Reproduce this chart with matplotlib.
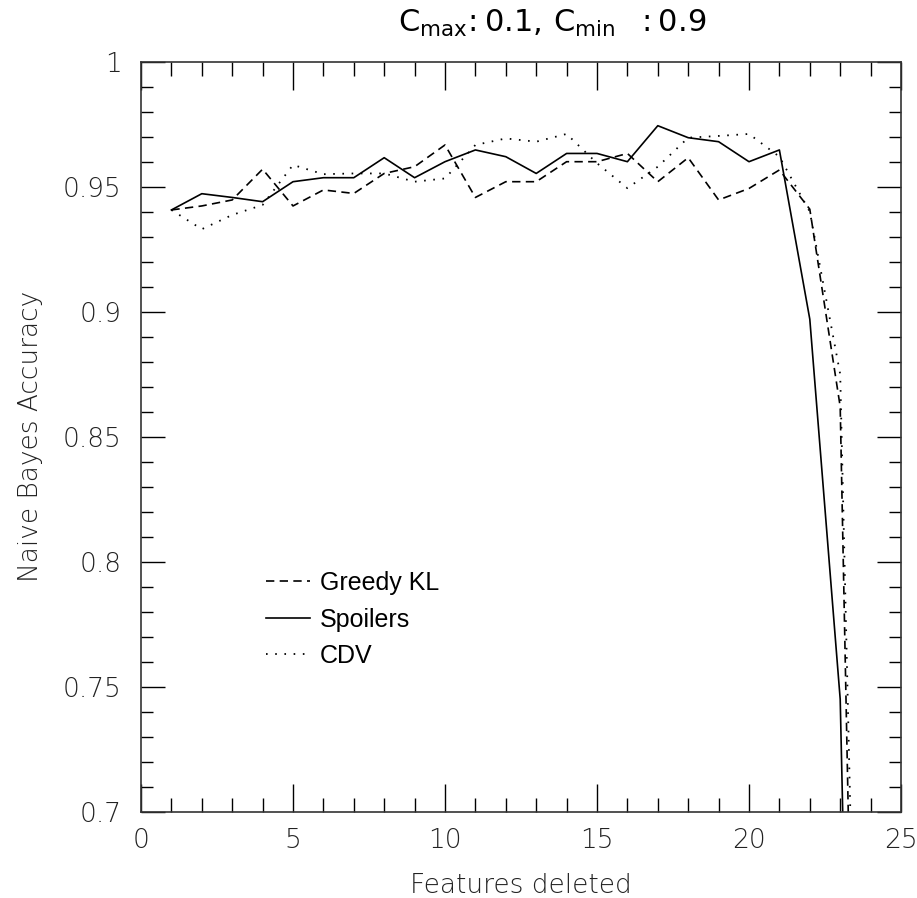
#!/usr/bin/env python3
"""
Naive Bayes accuracy vs number of features deleted (C_max: 0.1, C_min: 0.9).
"""

import matplotlib
matplotlib.use("Agg")
import matplotlib.pyplot as plt
from matplotlib.ticker import MultipleLocator, FuncFormatter

# --------------------------------------------------------------------------- #
# Data
# --------------------------------------------------------------------------- #
features = list(range(1, 25))

greedy_kl = [0.9407, 0.9423, 0.9447, 0.9570, 0.9423, 0.9487, 0.9473, 0.9553,
             0.9580, 0.9667, 0.9457, 0.9520, 0.9520, 0.9600, 0.9600, 0.9633,
             0.9520, 0.9616, 0.9447, 0.9493, 0.9567, 0.9410, 0.8620, 0.2500]

spoilers = [0.9407, 0.9472, 0.9457, 0.9440, 0.9520, 0.9536, 0.9536, 0.9616,
            0.9536, 0.9600, 0.9647, 0.9620, 0.9553, 0.9633, 0.9633, 0.9600,
            0.9744, 0.9696, 0.9680, 0.9600, 0.9647, 0.8970, 0.7450, 0.2000]

cdv = [0.9407, 0.9330, 0.9387, 0.9427, 0.9587, 0.9550, 0.9553, 0.9553,
       0.9520, 0.9533, 0.9667, 0.9693, 0.9680, 0.9711, 0.9594, 0.9494,
       0.9580, 0.9696, 0.9703, 0.9711, 0.9620, 0.9400, 0.8750, 0.3500]

TITLE = r"$\mathregular{C_{max}\!: 0.1,\, C_{min}\ \ : 0.9}$"

plt.rcParams["mathtext.fontset"] = "custom"
plt.rcParams["mathtext.rm"] = "Liberation Sans"

# --------------------------------------------------------------------------- #
# Figure
# --------------------------------------------------------------------------- #
fig = plt.figure(figsize=(9.17, 8.98), dpi=100)
ax = fig.add_axes([141 / 917, 1 - 811.7 / 898, 760 / 917, 750 / 898])

ax.plot(features, greedy_kl, color="black", lw=1.2, linestyle=(0, (5, 3.2)),
        label="Greedy KL")
ax.plot(features, spoilers, color="black", lw=1.2, linestyle="-",
        label="Spoilers")
ax.plot(features, cdv, color="black", lw=1.3, linestyle=(0, (0.9, 4.2)),
        label="CDV")

ax.set_xlim(0, 25)
ax.set_ylim(0.7, 1.0)

ax.xaxis.set_major_locator(MultipleLocator(5))
ax.xaxis.set_minor_locator(MultipleLocator(1))
ax.yaxis.set_major_locator(MultipleLocator(0.05))
ax.yaxis.set_minor_locator(MultipleLocator(0.01))
ax.yaxis.set_major_formatter(FuncFormatter(lambda v, p: f"{v:.2f}".rstrip("0").rstrip(".")))

ax.tick_params(axis="x", which="major", direction="in", length=20, width=1,
               top=True, pad=12, labelsize=19)
ax.tick_params(axis="x", which="minor", direction="in", length=10, width=1,
               top=True)
ax.tick_params(axis="y", which="major", direction="in", length=17, width=1,
               right=True, pad=14, labelsize=19)
ax.tick_params(axis="y", which="minor", direction="in", length=8.5, width=1,
               right=True)
for lab in ax.get_xticklabels() + ax.get_yticklabels():
    lab.set_fontweight("light")
    lab.set_color("#222222")

for sp in ax.spines.values():
    sp.set_linewidth(1.2)
    sp.set_color("#333333")

ax.set_xlabel("Features deleted", fontsize=19, fontweight="light",
              color="#222222", labelpad=14)
ax.set_ylabel("Naive Bayes Accuracy", fontsize=19, fontweight="light",
              color="#222222", labelpad=14)

fig.text(552 / 917, 1 - 23 / 898, TITLE, ha="center", va="center",
         fontsize=22, color="black")

ax.legend(loc="upper left", bbox_to_anchor=(266 / 917, 1 - 571 / 898),
          bbox_transform=fig.transFigure, frameon=False,
          prop={"family": "Liberation Sans", "size": 18},
          handlelength=1.75, handletextpad=0.4, labelspacing=0.5,
          borderpad=0, borderaxespad=0)

plt.savefig("out.png", dpi=100)
print("Saved: out.png")
